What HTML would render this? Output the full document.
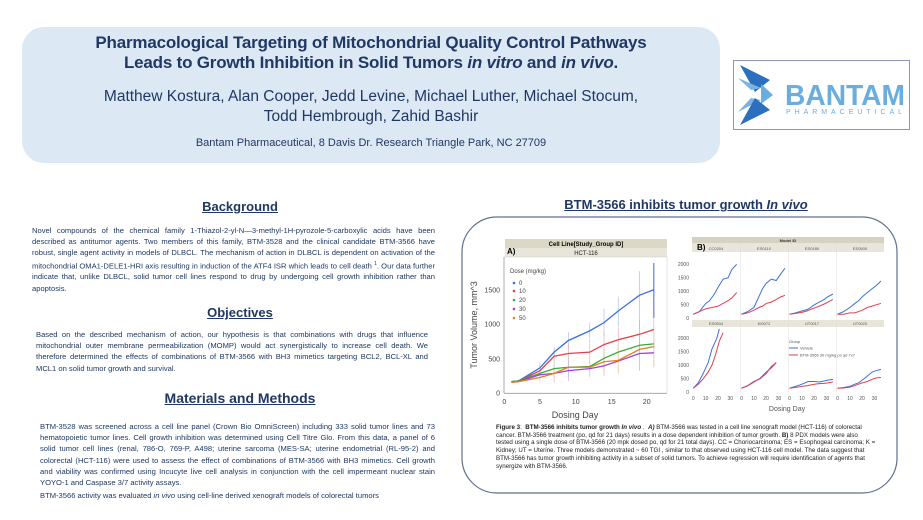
<!DOCTYPE html>
<html><head><meta charset="utf-8">
<style>
*{margin:0;padding:0;box-sizing:border-box}
body{width:923px;height:520px;background:#fff;position:relative;overflow:hidden;font-family:"Liberation Sans",sans-serif;color:#1f3864}
.abs{position:absolute}
.hdr{left:22px;top:27px;width:698px;height:136px;background:#dde8f5;border-radius:22px}
.t{position:absolute;left:22px;width:698px;text-align:center;color:#1f3864}
.sec{position:absolute;text-align:center;font-weight:bold;text-decoration:underline;color:#1f3864;font-size:13px}
.p{position:absolute;font-size:7.6px;line-height:11.2px;text-align:justify;text-align-last:left;color:#1f3864}
</style></head><body>
<div class="abs hdr"></div>
<div class="t" style="top:33px;font-size:17px;font-weight:bold;line-height:20px;letter-spacing:-0.2px">Pharmacological Targeting of Mitochondrial Quality Control Pathways<br>Leads to Growth Inhibition in Solid Tumors <i>in vitro</i> and <i>in vivo</i>.</div>
<div class="t" style="top:87px;font-size:15.5px;line-height:20px">Matthew Kostura, Alan Cooper, Jedd Levine, Michael Luther, Michael Stocum,<br>Todd Hembrough, Zahid Bashir</div>
<div class="t" style="top:137px;font-size:11px">Bantam Pharmaceutical, 8 Davis Dr. Research Triangle Park, NC 27709</div>

<div class="abs" style="left:733px;top:60px;width:177px;height:70px;border:1px solid #8a97b8;background:#fff"></div>
<svg class="abs" style="left:733px;top:60px" width="177" height="70">
<polygon points="7,5 37,20 22,32" fill="#2c6fbf"/>
<polygon points="5,18 28,28 18,30" fill="#7ab3e3"/>
<polygon points="28,24 40,35 28,44" fill="#6aaee0"/>
<polygon points="5,52 28,40 18,38" fill="#7ab3e3"/>
<polygon points="7,65 37,50 22,38" fill="#2c6fbf"/>
<text x="52" y="45" font-size="29" font-weight="bold" fill="#6aaee0" font-family="Liberation Sans" textLength="120" lengthAdjust="spacingAndGlyphs">BANTAM</text>
<text x="53" y="54" font-size="7" fill="#6aaee0" font-family="Liberation Sans" textLength="118" letter-spacing="2">PHARMACEUTICAL</text>
</svg>

<div class="sec" style="left:140px;width:200px;top:199px">Background</div>
<div class="p" style="left:32px;top:225px;width:403px">Novel compounds of the chemical family 1-Thiazol-2-yl-N—3-methyl-1H-pyrozole-5-carboxylic acids have been described as antitumor agents. Two members of this family, BTM-3528 and the clinical candidate BTM-3566 have robust, single agent activity in models of DLBCL. The mechanism of action in DLBCL is dependent on activation of the mitochondrial OMA1-DELE1-HRI axis resulting in induction of the ATF4 ISR which leads to cell death <sup style="font-size:5px">1</sup>. Our data further indicate that, unlike DLBCL, solid tumor cell lines respond to drug by undergoing cell growth inhibition rather than apoptosis.</div>
<div class="sec" style="left:140px;width:200px;top:305px">Objectives</div>
<div class="p" style="left:36px;top:329px;width:392px">Based on the described mechanism of action, our hypothesis is that combinations with drugs that influence mitochondrial outer membrane permeabilization (MOMP) would act synergistically to increase cell death. We therefore determined the effects of combinations of BTM-3566 with BH3 mimetics targeting BCL2, BCL-XL and MCL1 on solid tumor growth and survival.</div>
<div class="sec" style="left:110px;width:260px;top:390px;font-size:14px">Materials and Methods</div>
<div class="p" style="left:40px;top:421px;width:395px">BTM-3528 was screened across a cell line panel (Crown Bio OmniScreen) including 333 solid tumor lines and 73 hematopoietic tumor lines. Cell growth inhibition was determined using Cell Titre Glo. From this data, a panel of 6 solid tumor cell lines (renal, 786-O, 769-P, A498; uterine sarcoma (MES-SA; uterine endometrial (RL-95-2) and colorectal (HCT-116) were used to assess the effect of combinations of BTM-3566 with BH3 mimetics. Cell growth and viability was confirmed using Incucyte live cell analysis in conjunction with the cell impermeant nuclear stain YOYO-1 and Caspase 3/7 activity assays.</div>
<div class="p" style="left:40px;top:490px;width:395px">BTM-3566 activity was evaluated <i>in vivo</i> using cell-line derived xenograft models of colorectal tumors</div>

<div class="sec" style="left:500px;width:372px;top:197px">BTM-3566 inhibits tumor growth <i>In vivo</i></div>

<svg class="abs" style="left:0;top:0" width="923" height="520" font-family="Liberation Sans">
<rect x="462" y="217" width="435" height="276" rx="35" ry="35" fill="none" stroke="#62708a" stroke-width="1.2"/>
<!-- Chart A -->
<rect x="505" y="239" width="162" height="9" fill="#dcd8c8"/>
<rect x="505" y="248" width="162" height="9" fill="#e8e5da"/>
<text x="586" y="246" font-size="6" font-weight="bold" text-anchor="middle" fill="#000">Cell Line[Study_Group ID]</text>
<text x="586" y="255" font-size="6" text-anchor="middle" fill="#222">HCT-116</text>
<text x="507" y="254" font-size="8" font-weight="bold" fill="#000">A)</text>
<rect x="504" y="257" width="163" height="136" fill="#fff" stroke="#ccc" stroke-width="0.5"/>
<line x1="504" y1="257" x2="504" y2="393" stroke="#888" stroke-width="0.6"/>
<line x1="504" y1="393.3" x2="667" y2="393.3" stroke="#888" stroke-width="0.6"/>
<g font-size="7" fill="#444" text-anchor="end">
<text x="500" y="395.5">0</text><text x="500" y="361.5">500</text><text x="500" y="326.5">1000</text><text x="500" y="292.5">1500</text>
</g>
<g font-size="7" fill="#444" text-anchor="middle">
<text x="504.3" y="404">0</text><text x="540" y="404">5</text><text x="575.7" y="404">10</text><text x="611.7" y="404">15</text><text x="646.7" y="404">20</text>
</g>
<text x="575" y="418" font-size="9" fill="#444" text-anchor="middle">Dosing Day</text>
<text transform="translate(477,325) rotate(-90)" font-size="9" fill="#444" text-anchor="middle">Tumor Volume, mm^3</text>
<text x="510" y="273" font-size="6" fill="#444">Dose (mg/kg)</text>
<g font-size="6" fill="#444">
<circle cx="514" cy="283" r="1.3" fill="#3d6fe0"/><text x="519" y="285">0</text>
<circle cx="514" cy="291" r="1.3" fill="#e04050"/><text x="519" y="293">10</text>
<circle cx="514" cy="300" r="1.3" fill="#3aaa3a"/><text x="519" y="302">20</text>
<circle cx="514" cy="309" r="1.3" fill="#a040e0"/><text x="519" y="311">30</text>
<circle cx="514" cy="318" r="1.3" fill="#e08020"/><text x="519" y="320">50</text>
</g>
<g transform="translate(504.3,393.3) scale(7.12,-0.0686)" fill="none">
<g stroke-width="0.6" opacity="0.5">
<path d="M5 300V440M7 520V680M9 650V890M12 800V1030M14 830V1230M16 970V1410M19 1080V1780M21 1100V1900" stroke="#3d6fe0" vector-effect="non-scaling-stroke"/>
<path d="M7 450V640M9 430V720M12 420V790M14 520V900M16 600V960M19 640V1080M21 620V1240" stroke="#e04050" vector-effect="non-scaling-stroke"/>
<path d="M7 220V500M9 250V510M12 300V480M14 380V640M16 480V720M19 560V840M21 400V900" stroke="#3aaa3a" vector-effect="non-scaling-stroke"/>
<path d="M5 170V360M7 160V420M9 180V480M12 240V480M14 250V550M16 300V640M19 330V1080M21 380V800" stroke="#a040e0" vector-effect="non-scaling-stroke"/>
<path d="M7 200V380M12 270V500M14 300V620M16 280V700M19 330V930M21 380V900" stroke="#e08020" vector-effect="non-scaling-stroke"/>
</g>
<path d="M21 1100V1900" stroke="#3d6fe0" stroke-width="1" vector-effect="non-scaling-stroke"/>
<polyline points="1,170 2,180 5,370 7,600 9,770 12,910 14,1030 16,1200 19,1430 21,1510" stroke="#3d6fe0" stroke-width="1.3" vector-effect="non-scaling-stroke"/>
<polyline points="1,170 2,180 5,330 7,540 9,580 12,600 14,710 16,780 19,860 21,930" stroke="#e04050" stroke-width="1.3" vector-effect="non-scaling-stroke"/>
<polyline points="1,170 2,180 5,290 7,360 9,380 12,390 14,510 16,600 19,700 21,720" stroke="#3aaa3a" stroke-width="1.3" vector-effect="non-scaling-stroke"/>
<polyline points="1,160 2,170 5,270 7,290 9,330 12,360 14,400 16,470 19,580 21,590" stroke="#a040e0" stroke-width="1.3" vector-effect="non-scaling-stroke"/>
<polyline points="1,160 2,170 5,230 7,290 9,380 12,380 14,460 16,480 19,640 21,680" stroke="#e08020" stroke-width="1.3" vector-effect="non-scaling-stroke"/>
</g>

<!-- Chart B -->
<rect x="692" y="237" width="192" height="6" fill="#d6d2c2"/>
<text x="788" y="242" font-size="4" text-anchor="middle" font-weight="bold" fill="#333">Model ID</text>
<g fill="#e8e5da"><rect x="692" y="243" width="192" height="9"/><rect x="692" y="320" width="192" height="7"/></g>
<g font-size="4" fill="#555" text-anchor="middle">
<text x="716" y="250">CC0204</text><text x="764" y="250">ES0110</text><text x="812" y="250">ES0180</text><text x="860" y="250">ES0500</text>
<text x="716" y="325">ES0504</text><text x="764" y="325">KI0072</text><text x="812" y="325">UT0017</text><text x="860" y="325">UT0020</text>
</g>
<text x="697" y="250" font-size="8" font-weight="bold" fill="#000">B)</text>
<g stroke="#ddd" stroke-width="0.5"><line x1="740.5" y1="243" x2="740.5" y2="393"/><line x1="788.5" y1="243" x2="788.5" y2="393"/><line x1="836.5" y1="243" x2="836.5" y2="393"/></g>
<g font-size="5" fill="#555" text-anchor="end">
<text x="689" y="266">2000</text><text x="689" y="279.5">1500</text><text x="689" y="293">1000</text><text x="689" y="306.5">500</text><text x="689" y="320">0</text>
<text x="689" y="340">2000</text><text x="689" y="353.5">1500</text><text x="689" y="367">1000</text><text x="689" y="380.5">500</text><text x="689" y="394">0</text>
</g>
<g font-size="5" fill="#555" text-anchor="middle">
<text x="693.3" y="400">0</text><text x="705.7" y="400">10</text><text x="718" y="400">20</text><text x="730.3" y="400">30</text>
<text x="741.5" y="400">0</text><text x="754" y="400">10</text><text x="766" y="400">20</text><text x="778.5" y="400">30</text>
<text x="789.5" y="400">0</text><text x="802" y="400">10</text><text x="814" y="400">20</text><text x="826.5" y="400">30</text>
<text x="837.5" y="400">0</text><text x="850" y="400">10</text><text x="862" y="400">20</text><text x="874.5" y="400">30</text>
</g>
<text x="787" y="411" font-size="7" fill="#555" text-anchor="middle">Dosing Day</text>
<text x="789" y="343" font-size="4" fill="#555">Group</text>
<line x1="789" y1="348" x2="798" y2="348" stroke="#3d6fe0" stroke-width="1"/><text x="800" y="349.5" font-size="4" fill="#555">Vehicle</text>
<line x1="789" y1="355" x2="798" y2="355" stroke="#e04050" stroke-width="1"/><text x="800" y="356.5" font-size="4" fill="#555">BTM-3566 30 mg/kg po qd 7x7</text>
<g fill="none" stroke-width="1" >
<g transform="translate(693.3,318.3) scale(1.24,-0.027)">
<polyline points="0,150 5,250 10,550 13,650 17,900 20,1150 24,1450 28,1500 31,1800 35,2000" stroke="#3d6fe0" vector-effect="non-scaling-stroke"/>
<polyline points="0,150 5,250 10,350 13,380 17,420 20,450 24,550 28,650 31,750 35,950" stroke="#e04050" vector-effect="non-scaling-stroke"/>
</g>
<g transform="translate(741.5,318.3) scale(1.24,-0.027)">
<polyline points="0,150 5,250 10,400 14,800 17,1100 20,1300 24,1450 28,1400 31,1600 35,1850" stroke="#3d6fe0" vector-effect="non-scaling-stroke"/>
<polyline points="0,150 5,200 10,300 14,400 17,450 20,550 24,600 28,700 31,780 35,850" stroke="#e04050" vector-effect="non-scaling-stroke"/>
</g>
<g transform="translate(789.5,318.3) scale(1.24,-0.027)">
<polyline points="0,150 5,200 10,270 14,320 17,400 20,500 24,600 28,700 31,800 35,900" stroke="#3d6fe0" vector-effect="non-scaling-stroke"/>
<polyline points="0,150 5,180 10,220 14,270 17,330 20,380 24,450 28,530 31,600 35,700" stroke="#e04050" vector-effect="non-scaling-stroke"/>
</g>
<g transform="translate(837.5,318.3) scale(1.24,-0.027)">
<polyline points="0,150 5,250 10,400 14,550 17,650 20,800 24,950 28,1100 31,1200 35,1380" stroke="#3d6fe0" vector-effect="non-scaling-stroke"/>
<polyline points="0,150 5,150 10,200 14,200 17,250 20,300 24,400 28,450 31,500 35,550" stroke="#e04050" vector-effect="non-scaling-stroke"/>
</g>
<g transform="translate(693.3,392.3) scale(1.24,-0.027)">
<polyline points="0,150 4,350 8,700 12,1100 15,1600 19,2000 21,2350" stroke="#3d6fe0" vector-effect="non-scaling-stroke"/>
<polyline points="0,150 4,300 8,500 12,750 15,1000 18,1400 21,1900 24,2200" stroke="#e04050" vector-effect="non-scaling-stroke"/>
</g>
<g transform="translate(741.5,392.3) scale(1.24,-0.027)">
<polyline points="0,150 5,250 10,400 15,500 20,700 24,950 28,1100" stroke="#3d6fe0" vector-effect="non-scaling-stroke"/>
<polyline points="0,150 5,240 10,380 15,520 20,750 24,900 28,1100" stroke="#e04050" vector-effect="non-scaling-stroke"/>
</g>
<g transform="translate(789.5,392.3) scale(1.24,-0.027)">
<polyline points="0,150 5,220 10,300 15,400 20,400 24,380 28,420 31,450 35,480" stroke="#3d6fe0" vector-effect="non-scaling-stroke"/>
<polyline points="0,150 5,180 10,220 15,250 20,300 24,320 28,330 31,350 35,380" stroke="#e04050" vector-effect="non-scaling-stroke"/>
</g>
<g transform="translate(837.5,392.3) scale(1.24,-0.027)">
<polyline points="0,150 5,180 10,220 14,300 17,350 20,450 24,600 28,750 31,800 35,850" stroke="#3d6fe0" vector-effect="non-scaling-stroke"/>
<polyline points="0,150 5,160 10,190 14,250 17,300 20,350 24,400 28,480 31,530 35,550" stroke="#e04050" vector-effect="non-scaling-stroke"/>
</g>
</g>
</svg>

<div class="abs" style="left:496px;top:424px;width:380px;font-size:6.2px;line-height:7.7px;color:#222"><b>Figure 3</b>: &nbsp;<b>BTM-3566 inhibits tumor growth <i>In vivo</i></b> . &nbsp;<b><i>A)</i></b> BTM-3566 was tested in a cell line xenograft model (HCT-116) of colorectal cancer. BTM-3566 treatment (po, qd for 21 days) results in a dose dependent inhibition of tumor growth. <b>B)</b> 8 PDX models were also tested using a single dose of BTM-3566 (20 mpk dosed po, qd for 21 total days). CC = Choriocarcinoma; ES = Esophogeal carcinoma; K = Kidney; UT = Uterine. Three models demonstrated ~ 60 TGI , similar to that observed using HCT-116 cell model. The data suggest that BTM-3566 has tumor growth inhibiting activity in a subset of solid tumors. To achieve regression will require identification of agents that synergize with BTM-3566.</div>
</body></html>
